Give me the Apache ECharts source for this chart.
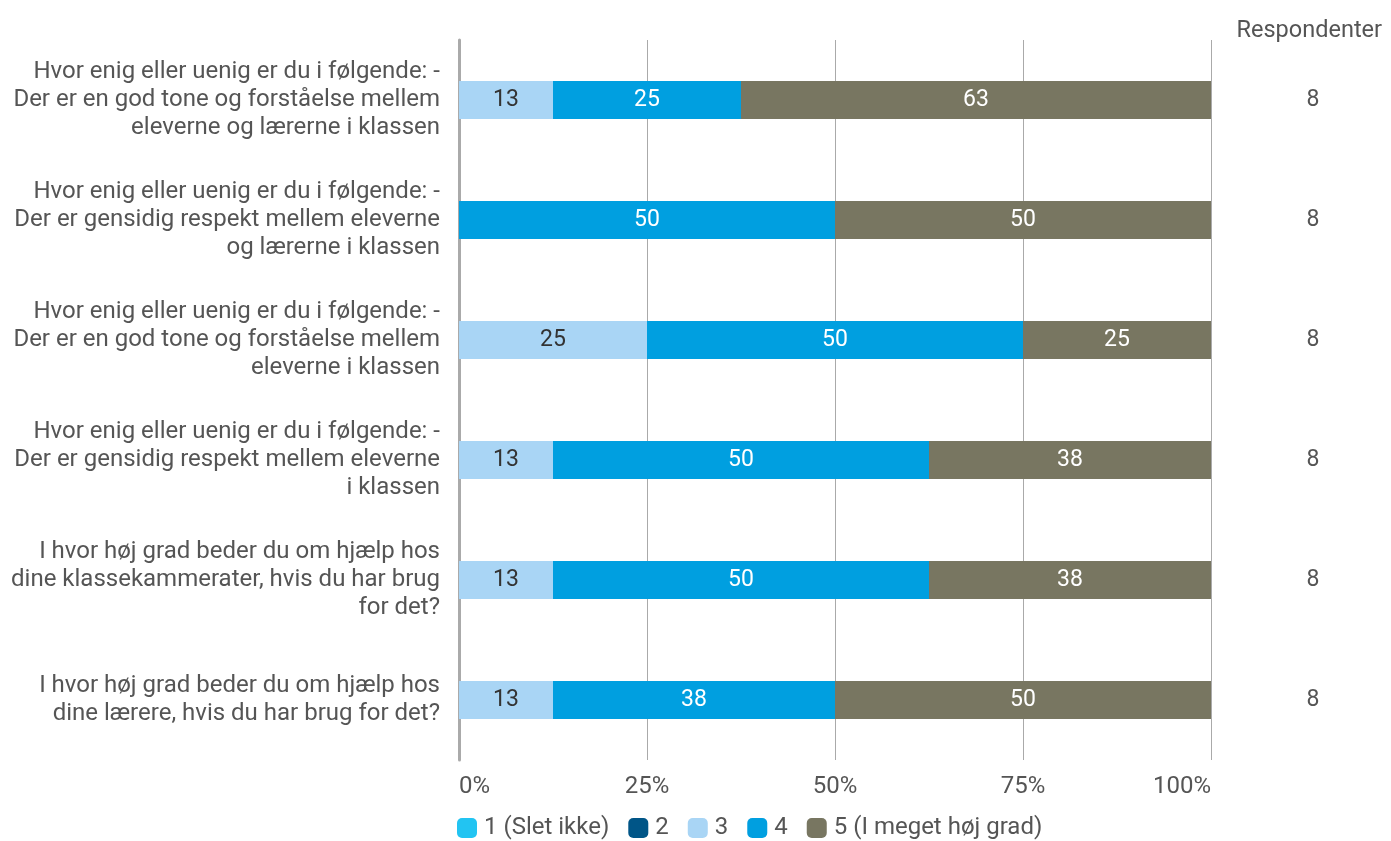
<!DOCTYPE html>
<html>
<head>
<meta charset="utf-8">
<title>Respondenter</title>
<script src="https://cdn.jsdelivr.net/npm/echarts@6/dist/echarts.min.js"></script>
<style>
  html, body { margin: 0; padding: 0; background: #fff; }
  #main { width: 1391px; height: 841px; }
</style>
</head>
<body>
<div id="main"></div>
<script type="text/javascript">
// spørgsmål (top til bund)
var categories = [
    'Hvor enig eller uenig er du i følgende: -\nDer er en god tone og forståelse mellem\neleverne og lærerne i klassen',
    'Hvor enig eller uenig er du i følgende: -\nDer er gensidig respekt mellem eleverne\nog lærerne i klassen',
    'Hvor enig eller uenig er du i følgende: -\nDer er en god tone og forståelse mellem\neleverne i klassen',
    'Hvor enig eller uenig er du i følgende: -\nDer er gensidig respekt mellem eleverne\ni klassen',
    'I hvor høj grad beder du om hjælp hos\ndine klassekammerater, hvis du har brug\nfor det?',
    'I hvor høj grad beder du om hjælp hos\ndine lærere, hvis du har brug for det?'
];
var respondents = ['8', '8', '8', '8', '8', '8'];
var seriesNames = ['1 (Slet ikke)', '2', '3', '4', '5 (I meget høj grad)'];
var seriesColors = ['#22C4F2', '#005587', '#A9D5F5', '#009FE0', '#787661'];
var labelColors = ['#333333', '#ffffff', '#333333', '#ffffff', '#ffffff'];
// procent pr. svarmulighed
var v1 = [0, 0, 0, 0, 0, 0];
var v2 = [0, 0, 0, 0, 0, 0];
var v3 = [12.5, 0, 25, 12.5, 12.5, 12.5];
var v4 = [25, 50, 50, 50, 50, 37.5];
var v5 = [62.5, 50, 25, 37.5, 37.5, 50];
var xTicks = ['0%', '25%', '50%', '75%', '100%'];

var values = [v1, v2, v3, v4, v5];
var font = 'Roboto';

var series = [];
for (var i = 0; i < seriesNames.length; i++) {
    series.push({
        name: seriesNames[i],
        type: 'bar',
        stack: 'total',
        barWidth: 38,
        itemStyle: { color: seriesColors[i] },
        label: {
            show: true,
            position: 'inside',
            color: labelColors[i],
            fontFamily: font,
            fontSize: 23,
            formatter: function (p) {
                return p.value > 0 ? Math.round(p.value) : '';
            }
        },
        data: values[i]
    });
}

var myChart = echarts.init(document.getElementById('main'));
var option = {
    backgroundColor: '#ffffff',
    animation: false,
    title: {
        text: 'Respondenter',
        right: 4,
        top: 14,
        textStyle: { fontFamily: font, fontSize: 23.5, fontWeight: 'normal', color: '#555555' }
    },
    legend: {
        left: 457,
        top: 816,
        padding: 0,
        itemWidth: 20,
        itemHeight: 20,
        itemGap: 19,
        icon: 'roundRect',
        textStyle: { fontFamily: font, fontSize: 24, color: '#555555', padding: [0, 0, 0, 2] },
        data: seriesNames
    },
    grid: {
        left: 459,
        right: 180,
        top: 40,
        bottom: 81,
        containLabel: false
    },
    xAxis: {
        type: 'value',
        min: 0,
        max: 100,
        interval: 25,
        axisLine: { show: false },
        axisTick: { show: false },
        splitLine: { lineStyle: { color: '#aaaaaa', width: 1 } },
        axisLabel: {
            margin: 15,
            fontFamily: font,
            fontSize: 24,
            color: '#555555',
            alignMinLabel: 'left',
            alignMaxLabel: 'right',
            formatter: function (v) { return xTicks[v / 25]; }
        }
    },
    yAxis: [{
        type: 'category',
        inverse: true,
        data: categories,
        axisLine: { show: true, lineStyle: { color: '#aaaaaa', width: 3 } },
        axisTick: { show: false },
        axisLabel: {
            margin: 19,
            fontFamily: font,
            fontSize: 24,
            lineHeight: 28,
            color: '#555555',
            align: 'right'
        }
    }, {
        type: 'category',
        inverse: true,
        position: 'right',
        data: respondents,
        axisLine: { show: false },
        axisTick: { show: false },
        axisLabel: {
            margin: 102,
            fontFamily: font,
            fontSize: 23,
            color: '#555555',
            align: 'center'
        }
    }],
    series: series
};
myChart.setOption(option);
</script>
</body>
</html>
